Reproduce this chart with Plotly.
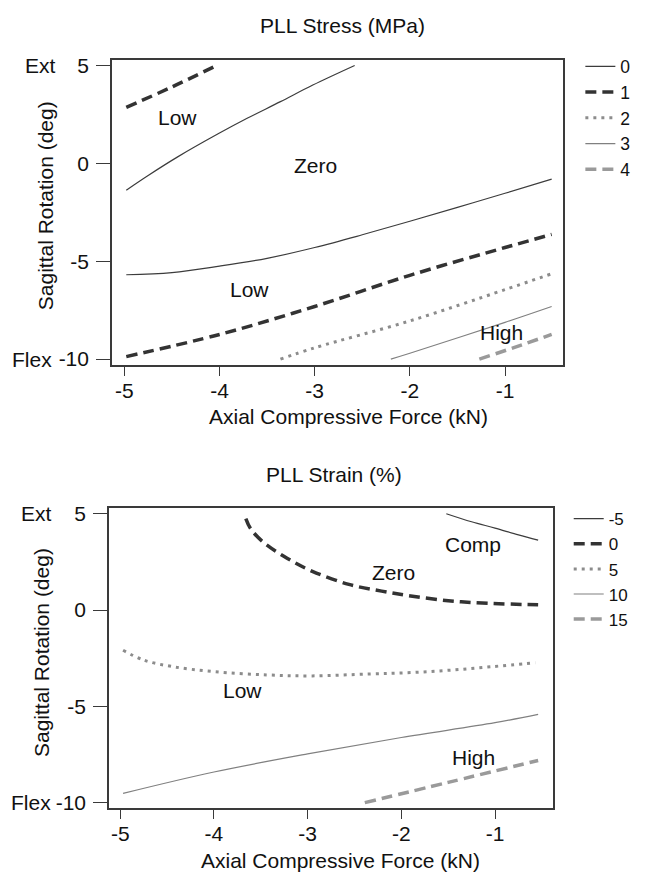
import plotly.graph_objects as go

FONT = "Liberation Sans, Arial, sans-serif"

# ---------------- Top chart: PLL Stress (MPa) ----------------
stress_levels = ["0", "1", "2", "3", "4"]
# level 0: two separate contour segments (upper-left and lower)
stress_0_x = [-4.98, -4.75, -4.44, -4.01, -3.71, -3.36, -3.02, -2.58, None,
              -4.98, -4.5, -4.0, -3.5, -3.0, -2.5, -2.0, -1.5, -1.0, -0.51]
stress_0_y = [-1.37, -0.62, 0.33, 1.52, 2.30, 3.15, 4.00, 5.0, None,
              -5.69, -5.58, -5.25, -4.85, -4.30, -3.65, -2.96, -2.25, -1.53, -0.81]
stress_1_x = [-4.98, -4.5, -4.05, None, -4.98, -4.0, -3.0, -2.0, -1.0, -0.51]
stress_1_y = [2.86, 3.9, 4.95, None, -9.87, -8.74, -7.31, -5.72, -4.30, -3.63]
stress_2_x = [-3.36, -3.0, -2.0, -1.0, -0.51]
stress_2_y = [-10.0, -9.42, -8.05, -6.45, -5.64]
stress_3_x = [-2.2, -2.0, -1.0, -0.51]
stress_3_y = [-10.0, -9.70, -8.12, -7.31]
stress_4_x = [-1.27, -0.9, -0.51]
stress_4_y = [-10.0, -9.4, -8.74]
stress_region_labels = ["Low", "Zero", "Low", "High"]
stress_region_x = [-4.44, -2.99, -3.68, -1.04]
stress_region_y = [2.32, -0.11, -6.42, -8.65]

# ---------------- Bottom chart: PLL Strain (%) ----------------
strain_levels = ["-5", "0", "5", "10", "15"]
strain_m5_x = [-1.52, -1.25, -1.0, -0.75, -0.54]
strain_m5_y = [5.0, 4.58, 4.25, 3.90, 3.63]
strain_0_x = [-3.66, -3.61, -3.48, -3.22, -2.95, -2.56, -2.21, -1.90, -1.47, -1.03, -0.54]
strain_0_y = [4.74, 4.23, 3.55, 2.69, 2.01, 1.33, 0.98, 0.73, 0.47, 0.34, 0.27]
strain_5_x = [-4.97, -4.75, -4.44, -4.00, -3.43, -2.95, -2.34, -1.90, -1.47, -1.03, -0.57]
strain_5_y = [-2.09, -2.60, -2.94, -3.20, -3.37, -3.42, -3.32, -3.25, -3.12, -2.94, -2.74]
strain_10_x = [-4.97, -4.0, -3.0, -2.0, -1.0, -0.54]
strain_10_y = [-9.52, -8.41, -7.47, -6.62, -5.85, -5.42]
strain_15_x = [-2.39, -1.5, -0.54]
strain_15_y = [-10.0, -8.95, -7.81]
strain_region_labels = ["Comp", "Zero", "Low", "High"]
strain_region_x = [-1.23, -2.08, -3.70, -1.23]
strain_region_y = [3.41, 1.96, -4.17, -7.64]

x_ticks = [-5, -4, -3, -2, -1]
x_tick_text = ["-5", "-4", "-3", "-2", "-1"]
y_ticks = [5, 0, -5, -10]
y_tick_text = ["5", "0", "-5", "-10"]

# line styles per level position (same pattern in both charts)
styles = [
    dict(color="#3c3c3c", width=1.2, dash="solid", shape="spline"),
    dict(color="#333333", width=3.5, dash="11px,6px", shape="spline"),
    dict(color="#8c8c8c", width=3.0, dash="3px,5px", shape="spline"),
    dict(color="#808080", width=1.2, dash="solid", shape="spline"),
    dict(color="#9a9a9a", width=3.5, dash="11px,6px", shape="spline"),
]

fig = go.Figure()

stress_data = [(stress_0_x, stress_0_y), (stress_1_x, stress_1_y), (stress_2_x, stress_2_y),
               (stress_3_x, stress_3_y), (stress_4_x, stress_4_y)]
for lvl, (xs, ys), st in zip(stress_levels, stress_data, styles):
    fig.add_trace(go.Scatter(x=xs, y=ys, mode="lines", name=lvl, line=st,
                             xaxis="x", yaxis="y", legend="legend", connectgaps=False))

strain_data = [(strain_m5_x, strain_m5_y), (strain_0_x, strain_0_y), (strain_5_x, strain_5_y),
               (strain_10_x, strain_10_y), (strain_15_x, strain_15_y)]
for lvl, (xs, ys), st in zip(strain_levels, strain_data, styles):
    fig.add_trace(go.Scatter(x=xs, y=ys, mode="lines", name=lvl, line=st,
                             xaxis="x2", yaxis="y2", legend="legend2", connectgaps=False))

axis_common = dict(showgrid=False, zeroline=False, showline=True, mirror=True,
                   linecolor="#3a3a3a", linewidth=1.6, ticks="outside",
                   tickcolor="#3a3a3a", tickwidth=1.2,
                   tickfont=dict(family=FONT, size=21, color="#111111"))

fig.update_layout(
    width=647, height=880,
    margin=dict(l=0, r=0, t=0, b=0),
    paper_bgcolor="white", plot_bgcolor="white",
    showlegend=True,
    font=dict(family=FONT, size=20, color="#111111"),
    xaxis=dict(domain=[0.1731, 0.8706], range=[-5.13, -0.388], anchor="y",
               tickvals=x_ticks, ticktext=x_tick_text, ticklen=9,
               ticklabelstandoff=-3, **axis_common),
    yaxis=dict(domain=[0.5864, 0.9383], range=[-10.3, 5.3], anchor="x",
               tickvals=y_ticks, ticktext=y_tick_text, ticklen=14,
               ticklabelstandoff=3, **axis_common),
    xaxis2=dict(domain=[0.1685, 0.8552], range=[-5.12, -0.378], anchor="y2",
                tickvals=x_ticks, ticktext=x_tick_text, ticklen=9,
                ticklabelstandoff=-3, **axis_common),
    yaxis2=dict(domain=[0.0758, 0.4213], range=[-10.29, 5.28], anchor="x2",
                tickvals=y_ticks, ticktext=y_tick_text, ticklen=14,
                ticklabelstandoff=3, **axis_common),
    legend=dict(x=0.897, xanchor="left", y=1 - 43 / 880, yanchor="top",
                bgcolor="rgba(0,0,0,0)", font=dict(family=FONT, size=17.5),
                itemwidth=30, tracegroupgap=0),
    legend2=dict(x=0.879, xanchor="left", y=1 - 502 / 880, yanchor="top",
                 bgcolor="rgba(0,0,0,0)", font=dict(family=FONT, size=17),
                 itemwidth=30, tracegroupgap=0),
)

ann = []
def txt(text, x, y, xref="paper", yref="paper", size=20, angle=0, xanchor="center"):
    ann.append(dict(text=text, x=x, y=y, xref=xref, yref=yref, showarrow=False,
                    font=dict(family=FONT, size=size, color="#111111"),
                    textangle=angle, xanchor=xanchor, yanchor="middle"))

# titles
txt("PLL Stress (MPa)", 342 / 647, 1 - 20 / 880, size=21)
txt("PLL Strain (%)", 334 / 647, 1 - 475 / 880, size=21)
# x axis titles
txt("Axial Compressive Force (kN)", 348 / 647, 1 - 416 / 880, size=21)
txt("Axial Compressive Force (kN)", 340 / 647, 1 - 866 / 880, size=21)
# y axis titles
txt("Sagittal Rotation (deg)", 45 / 647, 1 - 203 / 880, size=21, angle=-90)
txt("Sagittal Rotation (deg)", 41 / 647, 1 - 656 / 880, size=21, angle=-90)
# Ext / Flex
txt("Ext", 58 / 647, 5, yref="y", xanchor="right", size=21)
txt("Flex", 54 / 647, -10, yref="y", xanchor="right", size=21)
txt("Ext", 54 / 647, 5, yref="y2", xanchor="right", size=21)
txt("Flex", 53 / 647, -10, yref="y2", xanchor="right", size=21)
# region labels
for t, x, y in zip(stress_region_labels, stress_region_x, stress_region_y):
    txt(t, x, y, xref="x", yref="y", size=21)
for t, x, y in zip(strain_region_labels, strain_region_x, strain_region_y):
    txt(t, x, y, xref="x2", yref="y2", size=21)

fig.update_layout(annotations=ann)
fig.write_html("out.html")
